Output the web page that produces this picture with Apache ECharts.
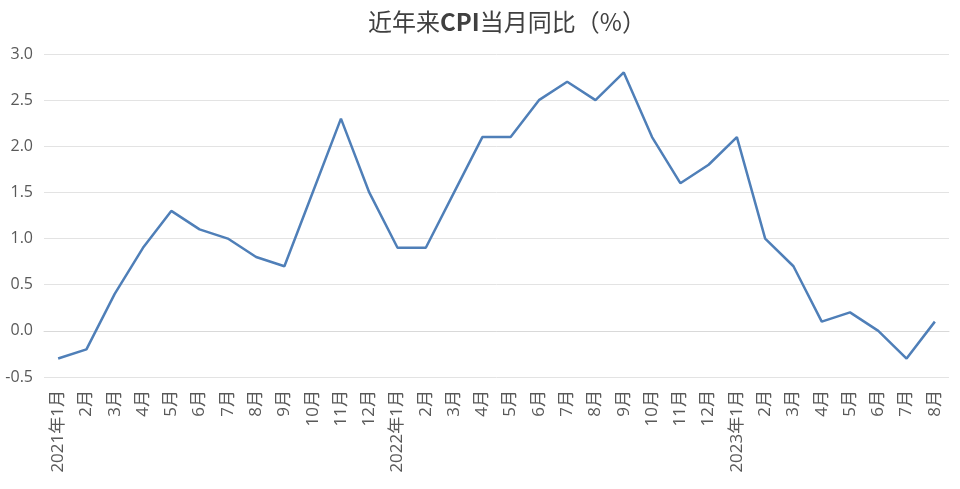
<!DOCTYPE html>
<html>
<head>
<meta charset="utf-8">
<script src="https://cdn.jsdelivr.net/npm/echarts@6/dist/echarts.min.js"></script>
<style>
    html, body { margin: 0; padding: 0; background: #fff; }
    #cpi-chart { width: 960px; height: 489px; }
</style>
</head>
<body>
<div id="cpi-chart"></div>
<script>
var months = ['2021年1月', '2月', '3月', '4月', '5月', '6月', '7月', '8月', '9月', '10月', '11月', '12月',
    '2022年1月', '2月', '3月', '4月', '5月', '6月', '7月', '8月', '9月', '10月', '11月', '12月',
    '2023年1月', '2月', '3月', '4月', '5月', '6月', '7月', '8月'];
var cpiValues = [-0.3, -0.2, 0.4, 0.9, 1.3, 1.1, 1.0, 0.8, 0.7, 1.5, 2.3, 1.5,
    0.9, 0.9, 1.5, 2.1, 2.1, 2.5, 2.7, 2.5, 2.8, 2.1, 1.6, 1.8,
    2.1, 1.0, 0.7, 0.1, 0.2, 0.0, -0.3, 0.1];

var fontFamily = '"Open Sans", "Noto Sans CJK SC", sans-serif';
var titleFont = '"Noto Sans CJK SC", sans-serif';

var chart = echarts.init(document.getElementById('cpi-chart'));

var option = {
    animation: false,
    textStyle: { fontFamily: fontFamily },
    title: {
        // CPI is set in bold in the original
        text: '{n|近年来}{b|CPI}{n|当月同比（%）}',
        left: 502,
        textAlign: 'center',
        top: 5,
        textStyle: {
            fontFamily: titleFont,
            fontSize: 24,
            color: '#404040',
            rich: {
                n: { fontFamily: titleFont, fontSize: 24, fontWeight: 'normal', color: '#404040' },
                b: { fontFamily: titleFont, fontSize: 24, fontWeight: 'bold', color: '#404040' }
            }
        }
    },
    grid: {
        left: 44,
        right: 11,
        top: 54,
        bottom: 112
    },
    xAxis: {
        type: 'category',
        data: months,
        boundaryGap: true,
        axisLine: { lineStyle: { color: '#d9d9d9' } },
        axisTick: { show: false },
        axisLabel: {
            rotate: 90,
            interval: 0,
            margin: 13,
            fontSize: 17,
            color: '#595959',
            fontFamily: fontFamily
        }
    },
    yAxis: {
        type: 'value',
        min: -0.5,
        max: 3.0,
        interval: 0.5,
        axisLine: { show: false },
        axisTick: { show: false },
        axisLabel: {
            fontSize: 16,
            color: '#595959',
            margin: 11,
            fontFamily: fontFamily,
            formatter: function(v) {
                return v.toFixed(1);
            }
        },
        splitLine: { lineStyle: { color: '#e3e3e3' } }
    },
    series: [
        {
            name: 'CPI当月同比',
            type: 'line',
            data: cpiValues,
            symbol: 'none',
            lineStyle: { color: '#4f7fb8', width: 2.5 }
        }
    ]
};

chart.setOption(option);
</script>
</body>
</html>
